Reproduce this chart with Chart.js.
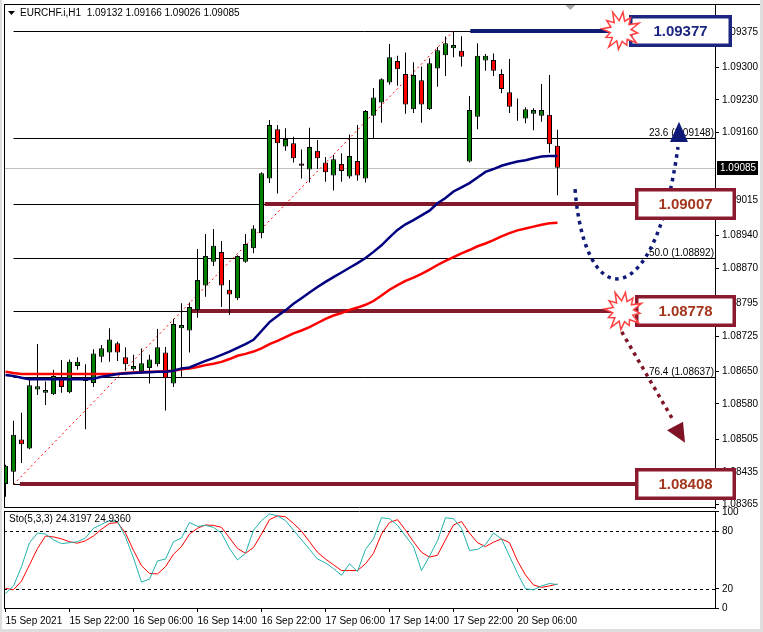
<!DOCTYPE html>
<html><head><meta charset="utf-8">
<script src="https://cdn.jsdelivr.net/npm/chart.js@4.4.1/dist/chart.umd.min.js"></script>
<style>
html,body{margin:0;padding:0;background:#fff;}
#wrap{position:relative;width:763px;height:632px;background:#fff;overflow:hidden;}
#main{position:absolute;left:0;top:0;}
#sto{position:absolute;left:0;top:500px;}
.edge{position:absolute;background:#dedede;}
</style></head><body>
<div id="wrap">
<canvas id="main" width="763" height="510"></canvas>
<canvas id="sto" width="763" height="132"></canvas>
<div class="edge" style="left:0;top:0;width:2px;height:632px"></div>
<div class="edge" style="left:760px;top:0;width:3px;height:632px"></div>
<div class="edge" style="left:0;top:629px;width:763px;height:3px"></div>
</div>
<script>
// ---------------- DATA ----------------
const symbol = 'EURCHF.i,H1';
const timeLabels = ['15 Sep 2021','15 Sep 22:00','16 Sep 06:00','16 Sep 14:00','16 Sep 22:00','17 Sep 06:00','17 Sep 14:00','17 Sep 22:00','20 Sep 06:00'];
const timeTickBars = [0,8,16,24,32,40,48,56,64];

const open = [1.08409,1.08435,1.08504,1.08485,1.08611,1.08604,1.08601,1.08633,1.08605,1.08661,
1.08638,1.08625,1.08681,1.08690,1.08710,1.08680,1.08654,1.08650,1.08657,1.08665,
1.08690,1.08624,1.08742,1.08737,1.08781,1.08833,1.08884,1.08905,1.08824,1.08806,
1.08884,1.08913,1.08945,1.09062,1.09167,1.09130,1.09137,1.09094,1.09081,1.09121,
1.09096,1.09068,1.09093,1.09066,1.09099,1.09062,1.09196,1.09224,1.09267,1.09313,
1.09285,1.09210,1.09272,1.09210,1.09297,1.09325,1.09340,1.09335,1.09098,1.09194,
1.09314,1.09315,1.09285,1.09246,1.09201,1.09190,1.09200,1.09196,1.09198,1.09132];
const high = [1.08450,1.08544,1.08561,1.08633,1.08708,1.08628,1.08653,1.08674,1.08675,1.08680,
1.08665,1.08697,1.08706,1.08742,1.08713,1.08701,1.08685,1.08699,1.08685,1.08740,
1.08702,1.08762,1.08795,1.08797,1.08911,1.08943,1.08954,1.08928,1.08845,1.08898,
1.08943,1.08962,1.09075,1.09187,1.09176,1.09169,1.09151,1.09124,1.09170,1.09144,
1.09108,1.09112,1.09116,1.09156,1.09176,1.09208,1.09255,1.09276,1.09349,1.09324,
1.09331,1.09310,1.09301,1.09319,1.09343,1.09365,1.09377,1.09366,1.09238,1.09351,
1.09328,1.09329,1.09295,1.09317,1.09233,1.09214,1.09212,1.09264,1.09283,1.09166];
const low = [1.08382,1.08408,1.08454,1.08483,1.08599,1.08578,1.08599,1.08604,1.08603,1.08653,
1.08526,1.08616,1.08669,1.08670,1.08672,1.08651,1.08651,1.08644,1.08624,1.08660,
1.08566,1.08616,1.08638,1.08690,1.08764,1.08809,1.08875,1.08787,1.08770,1.08802,
1.08882,1.08902,1.08934,1.09052,1.09030,1.09121,1.09096,1.09062,1.09053,1.09082,
1.09055,1.09036,1.09055,1.09062,1.09057,1.09053,1.09148,1.09181,1.09262,1.09260,
1.09200,1.09202,1.09181,1.09208,1.09258,1.09281,1.09321,1.09301,1.09096,1.09167,
1.09292,1.09281,1.09244,1.09202,1.09185,1.09180,1.09165,1.09183,1.09117,1.09026];
const close = [1.08448,1.08514,1.08494,1.08620,1.08618,1.08610,1.08640,1.08616,1.08670,1.08670,
1.08629,1.08688,1.08699,1.08718,1.08690,1.08665,1.08661,1.08667,1.08675,1.08701,
1.08635,1.08751,1.08749,1.08787,1.08845,1.08896,1.08918,1.08833,1.08814,1.08896,
1.08922,1.08955,1.09073,1.09176,1.09137,1.09146,1.09105,1.09089,1.09129,1.09105,
1.09075,1.09103,1.09078,1.09110,1.09068,1.09206,1.09235,1.09274,1.09321,1.09295,
1.09220,1.09283,1.09220,1.09308,1.09336,1.09351,1.09347,1.09322,1.09208,1.09324,
1.09324,1.09292,1.09253,1.09215,1.09202,1.09210,1.09208,1.09208,1.09135,1.09085];

const maFast = [1.08642,1.08640,1.08636,1.08633,1.08633,1.08633,1.08633,1.08633,1.08633,1.08633,
1.08633,1.08634,1.08638,1.08641,1.08644,1.08645,1.08646,1.08647,1.08648,1.08649,
1.08649,1.08651,1.08656,1.08658,1.08665,1.08672,1.08678,1.08685,1.08692,1.08700,
1.08708,1.08717,1.08736,1.08755,1.08768,1.08780,1.08794,1.08806,1.08818,1.08830,
1.08841,1.08851,1.08861,1.08871,1.08881,1.08892,1.08905,1.08919,1.08936,1.08952,
1.08964,1.08973,1.08983,1.08993,1.09009,1.09020,1.09034,1.09043,1.09052,1.09064,
1.09076,1.09082,1.09089,1.09094,1.09098,1.09101,1.09105,1.09109,1.09110,1.09110];
const maSlow = [1.08649,1.08646,1.08644,1.08644,1.08644,1.08644,1.08644,1.08644,1.08644,1.08644,
1.08644,1.08644,1.08644,1.08644,1.08644,1.08646,1.08647,1.08648,1.08649,1.08649,
1.08650,1.08651,1.08654,1.08656,1.08659,1.08663,1.08666,1.08670,1.08676,1.08683,
1.08687,1.08692,1.08699,1.08708,1.08715,1.08723,1.08731,1.08737,1.08744,1.08753,
1.08762,1.08769,1.08774,1.08781,1.08786,1.08792,1.08800,1.08812,1.08824,1.08834,
1.08843,1.08850,1.08858,1.08867,1.08877,1.08886,1.08894,1.08902,1.08909,1.08917,
1.08923,1.08930,1.08938,1.08945,1.08951,1.08955,1.08959,1.08963,1.08966,1.08967];

const stoMain = [15,23,43,68,78,77,71,67,68,69,73,83,87,91,90,74,52,27,30,49,
51,69,73,89,85,86,84,78,62,50,57,81,91,98,96,91,81,71,61,51,
47,41,34,46,38,61,72,94,93,86,75,64,39,54,70,94,93,83,60,61,
66,78,72,54,36,20,19,23,25.5,24.3197];
const stoSignal = [20.5,19,28,45,62,75,74,72,69,67.5,70,75,82,88,89,78,60,44,36,35.5,
43,56,64,77,83,86.5,86,84,73,62,57,63,77,92,96,95,88,80,69,58,
51,45,39,39,39,46,57,77,89,92,81,69,58,53,55,71,86.5,90,78,68,
64,68.5,72,68,49,34.4,24,21.5,23,24.9360];
const stoLevels = [80, 20];
const stoTicks = [100, 80, 20, 0];

const priceTicks = [1.09375,1.09300,1.09230,1.09160,1.09015,1.08940,1.08870,1.08795,1.08725,1.08650,1.08580,1.08505,1.08435,1.08365];

// Fibonacci retracement (anchored bar 1 low -> bar 56 high)
const fibRatios = [0.0, 23.6, 38.2, 50.0, 61.8, 76.4, 100.0];
const fibLevels = [1.09377, 1.09148, 1.09007, 1.08892, 1.08778, 1.08637, 1.08408];
const fibAnchorBars = [1, 56];

// Drawn objects (bar index / price)
const levelLines = [
  {price:1.09377, from:58.1, to:77.9, color:'#101c72'},
  {price:1.09007, from:32.4, to:78.7, color:'#821a2c'},
  {price:1.08778, from:23.1, to:78.7, color:'#821a2c'},
  {price:1.08408, from:1.8,  to:78.7, color:'#821a2c'}
];
const priceBoxes = [
  {price:1.09377, from:77.9, to:90.8, border:'#1c2680', text:'#1c2680'},
  {price:1.09007, from:78.7, to:91.3, border:'#8b1a2e', text:'#a3361c'},
  {price:1.08778, from:78.7, to:91.3, border:'#8b1a2e', text:'#a3361c'},
  {price:1.08408, from:78.7, to:91.3, border:'#8b1a2e', text:'#a3361c'}
];
const bursts = [{bar:76.9, price:1.09377},{bar:77.2, price:1.08778}];
const upCurve = {p:[[71.19,1.09039],[72.44,1.08770],[81.19,1.08770],[84.06,1.09129]],
                 head:[[84.19,1.09183],[83.06,1.09140],[85.31,1.09140]], color:'#0f1a78'};
const downArrow = {p:[[77.03,1.08734],[83.44,1.08546]],
                   head:[[84.94,1.08497],[82.69,1.08524],[84.69,1.08542]], color:'#7e1426'};

// ---------------- CHARTS ----------------
const FONT = '"Liberation Sans", Arial, sans-serif';
const X_MIN = -0.1875, X_MAX = X_MIN + 711/8;
const bars = open.map((_, i) => i);
const last = open.length - 1;

function seg(ctx, x1, y1, x2, y2){ ctx.beginPath(); ctx.moveTo(x1,y1); ctx.lineTo(x2,y2); ctx.stroke(); }
function zeroPad(s){ s.paddingTop=0; s.paddingBottom=0; s.paddingLeft=0; s.paddingRight=0; }

function starburst(ctx, cx, cy){
  const n = 12, rIn = 10.5;
  const jag = [19,16.5,20,17,19.5,15.5,18.5,20,16,19,17.5,20.5];
  ctx.beginPath();
  for (let k = 0; k < 2*n; k++){
    const ang = -Math.PI/2 + k*Math.PI/n + 0.12;
    const r = k % 2 === 0 ? jag[(k/2) % jag.length] : rIn;
    const px = cx + r*Math.cos(ang), py = cy + r*Math.sin(ang);
    if (k === 0) ctx.moveTo(px, py); else ctx.lineTo(px, py);
  }
  ctx.closePath();
  ctx.fillStyle = '#fff'; ctx.fill();
  ctx.strokeStyle = '#ff4040'; ctx.lineWidth = 1.5; ctx.stroke();
}

const mainDecor = {
  id: 'mainDecor',
  beforeDatasetsDraw(chart){
    const {ctx, chartArea:a, scales:{x, y}} = chart;
    ctx.save();
    ctx.beginPath(); ctx.rect(a.left, a.top, a.right-a.left, a.bottom-a.top); ctx.clip();
    ctx.lineWidth = 1;
    // current price line
    const yp = Math.round(y.getPixelForValue(close[last])) + 0.5;
    ctx.strokeStyle = '#c0c0c0'; seg(ctx, a.left, yp, a.right, yp);
    // fibonacci lines
    ctx.strokeStyle = '#000';
    const fx = x.getPixelForValue(fibAnchorBars[0]);
    fibLevels.forEach(v => { const yy = Math.round(y.getPixelForValue(v)) + 0.5; seg(ctx, fx, yy, a.right, yy); });
    // fib diagonal
    ctx.strokeStyle = '#ff0000'; ctx.setLineDash([2,3]);
    seg(ctx, x.getPixelForValue(fibAnchorBars[0]), y.getPixelForValue(fibLevels[6]),
             x.getPixelForValue(fibAnchorBars[1]), y.getPixelForValue(fibLevels[0]));
    ctx.setLineDash([]);
    // thick level lines
    levelLines.forEach(l => {
      ctx.strokeStyle = l.color; ctx.lineWidth = 4;
      const yy = Math.round(y.getPixelForValue(l.price));
      seg(ctx, x.getPixelForValue(l.from), yy, x.getPixelForValue(l.to), yy);
    });
    ctx.restore();
  },
  afterDatasetsDraw(chart){
    const {ctx, chartArea:a, scales:{x, y}} = chart;
    const X = v => x.getPixelForValue(v), Y = v => y.getPixelForValue(v);
    ctx.save();
    // frame
    ctx.strokeStyle = '#000'; ctx.lineWidth = 1;
    seg(ctx, a.left+0.5, a.top, a.left+0.5, a.bottom);
    seg(ctx, a.left, a.top+0.5, 760, a.top+0.5);
    seg(ctx, a.left, a.bottom-0.5, a.right, a.bottom-0.5);
    // chart shift marker
    ctx.fillStyle = '#a8a8a8';
    ctx.beginPath(); ctx.moveTo(X(70.6)-5, a.top+1); ctx.lineTo(X(70.6)+5, a.top+1); ctx.lineTo(X(70.6), a.top+6); ctx.closePath(); ctx.fill();
    // title
    ctx.fillStyle = '#000';
    ctx.beginPath(); ctx.moveTo(8, 11); ctx.lineTo(15, 11); ctx.lineTo(11.5, 15); ctx.closePath(); ctx.fill();
    ctx.font = '10px ' + FONT; ctx.textBaseline = 'middle'; ctx.textAlign = 'left';
    ctx.fillText(symbol + '  ' + [open[last], high[last], low[last], close[last]].map(v => v.toFixed(5)).join(' '), 20, 13);
    // fib labels
    ctx.textAlign = 'right'; ctx.textBaseline = 'bottom';
    fibLevels.forEach((v, i) => {
      ctx.fillText(fibRatios[i].toFixed(1) + ' (' + v.toFixed(5) + ')', a.right - 1, Math.round(Y(v)));
    });
    // current price tag
    const yp = Math.round(Y(close[last]));
    ctx.fillStyle = '#000'; ctx.fillRect(a.right + 2, yp - 7, 41, 14);
    ctx.fillStyle = '#fff'; ctx.textAlign = 'left'; ctx.textBaseline = 'middle';
    ctx.fillText(close[last].toFixed(5), a.right + 5, yp + 0.5);
    // blue dotted curve
    const c = upCurve.p.map(p => [X(p[0]), Y(p[1])]);
    ctx.strokeStyle = upCurve.color; ctx.lineWidth = 3.5; ctx.setLineDash([3.5, 4.5]);
    ctx.beginPath(); ctx.moveTo(c[0][0], c[0][1]);
    ctx.bezierCurveTo(c[1][0], c[1][1], c[2][0], c[2][1], c[3][0], c[3][1]); ctx.stroke();
    // maroon dotted arrow
    const d = downArrow.p.map(p => [X(p[0]), Y(p[1])]);
    ctx.strokeStyle = downArrow.color;
    ctx.beginPath(); ctx.moveTo(d[0][0], d[0][1]); ctx.lineTo(d[1][0], d[1][1]); ctx.stroke();
    ctx.setLineDash([]);
    [[upCurve.head, upCurve.color], [downArrow.head, downArrow.color]].forEach(([h, col]) => {
      ctx.fillStyle = col; ctx.beginPath();
      h.forEach((p, k) => k ? ctx.lineTo(X(p[0]), Y(p[1])) : ctx.moveTo(X(p[0]), Y(p[1])));
      ctx.closePath(); ctx.fill();
    });
    // price boxes
    priceBoxes.forEach(b => {
      const x0 = Math.round(X(b.from)), x1 = Math.round(X(b.to)), yc = Y(b.price);
      const y0 = Math.round(yc - 16), h = 32;
      ctx.fillStyle = '#fff'; ctx.fillRect(x0, y0, x1 - x0, h);
      ctx.strokeStyle = b.border; ctx.lineWidth = 3.5;
      ctx.strokeRect(x0 + 1.75, y0 + 1.75, x1 - x0 - 3.5, h - 3.5);
      ctx.fillStyle = b.text; ctx.font = 'bold 15px ' + FONT; ctx.textAlign = 'center'; ctx.textBaseline = 'middle';
      ctx.fillText(b.price.toFixed(5), (x0 + x1) / 2, y0 + h / 2 + 1);
    });
    // starbursts
    bursts.forEach(s => starburst(ctx, X(s.bar), Y(s.price)));
    ctx.restore();
  }
};

new Chart(document.getElementById('main'), {
  data: {
    datasets: [
      {type:'line', label:'MA fast', data: bars.map(i => ({x:i, y:maFast[i]})), borderColor:'#000080', borderWidth:2.5, pointRadius:0, tension:0, order:0},
      {type:'line', label:'MA slow', data: bars.map(i => ({x:i, y:maSlow[i]})), borderColor:'#ff0000', borderWidth:2.5, pointRadius:0, tension:0, order:0},
      {type:'bar', label:'body', data: bars.map(i => ({x:i, y:[open[i], close[i]]})),
        backgroundColor: bars.map(i => close[i] >= open[i] ? '#008000' : '#ff0000'),
        borderColor:'#000', borderWidth:1, borderSkipped:false, barThickness:5, inflateAmount:0, grouped:false, order:1},
      {type:'bar', label:'wick', data: bars.map(i => ({x:i, y:[low[i], high[i]]})),
        backgroundColor:'#000', borderWidth:0, barThickness:1, inflateAmount:0, grouped:false, order:2}
    ]
  },
  options: {
    responsive:false, animation:false, devicePixelRatio:1, events:[],
    layout:{padding:{left:4, top:4, right:0, bottom:2}},
    plugins:{legend:{display:false}, tooltip:{enabled:false}},
    scales:{
      x:{type:'linear', display:false, min:X_MIN, max:X_MAX, offset:false},
      y:{type:'linear', position:'right', min:1.083577, max:1.094347,
         afterBuildTicks: s => { s.ticks = priceTicks.map(v => ({value:v})); },
         afterFit: s => { s.width = 48; zeroPad(s); },
         grid:{drawOnChartArea:false, drawTicks:true, tickLength:4, color:'#000'},
         border:{display:true, color:'#000'},
         ticks:{font:{family:FONT, size:10}, color:'#000', padding:3, autoSkip:false,
                callback: v => Number(v).toFixed(5)}}
    }
  },
  plugins:[mainDecor]
});

const stoDecor = {
  id:'stoDecor',
  beforeDatasetsDraw(chart){
    const {ctx, chartArea:a, scales:{y}} = chart;
    ctx.save(); ctx.strokeStyle = '#000'; ctx.lineWidth = 1; ctx.setLineDash([3,3]);
    stoLevels.forEach(v => { const yy = Math.round(y.getPixelForValue(v)) + 0.5; seg(ctx, a.left, yy, a.right, yy); });
    ctx.restore();
  },
  afterDatasetsDraw(chart){
    const {ctx, chartArea:a} = chart;
    ctx.save(); ctx.strokeStyle = '#000'; ctx.lineWidth = 1;
    seg(ctx, a.left+0.5, a.top, a.left+0.5, a.bottom);
    seg(ctx, a.left, a.top+0.5, a.right, a.top+0.5);
    ctx.fillStyle = '#000'; ctx.font = '10px ' + FONT; ctx.textAlign = 'left'; ctx.textBaseline = 'middle';
    ctx.fillText('Sto(5,3,3) ' + stoMain[last].toFixed(4) + ' ' + stoSignal[last].toFixed(4), a.left + 5, a.top + 8);
    ctx.restore();
  }
};

new Chart(document.getElementById('sto'), {
  type:'line',
  data:{datasets:[
    {label:'Main', data: bars.map(i => ({x:i, y:stoMain[i]})), borderColor:'#20b2aa', borderWidth:1, pointRadius:0, tension:0},
    {label:'Signal', data: bars.map(i => ({x:i, y:stoSignal[i]})), borderColor:'#ff0000', borderWidth:1, pointRadius:0, tension:0}
  ]},
  options:{
    responsive:false, animation:false, devicePixelRatio:1, events:[],
    layout:{padding:{left:4, top:11, right:0, bottom:2}},
    plugins:{legend:{display:false}, tooltip:{enabled:false}},
    scales:{
      x:{type:'linear', min:X_MIN, max:X_MAX, offset:false,
         afterBuildTicks: s => { s.ticks = timeTickBars.map(v => ({value:v})); },
         afterFit: s => { s.height = 22; zeroPad(s); },
         grid:{drawOnChartArea:false, drawTicks:true, tickLength:4, color:'#000'},
         border:{display:true, color:'#000'},
         ticks:{font:{family:FONT, size:10}, color:'#000', padding:3, autoSkip:false, maxRotation:0, align:'start',
                callback: (v, i) => timeLabels[i]}},
      y:{type:'linear', position:'right', min:0, max:101,
         afterBuildTicks: s => { s.ticks = stoTicks.map(v => ({value:v})); },
         afterFit: s => { s.width = 48; zeroPad(s); },
         grid:{drawOnChartArea:false, drawTicks:true, tickLength:4, color:'#000'},
         border:{display:true, color:'#000'},
         ticks:{font:{family:FONT, size:10}, color:'#000', padding:3, autoSkip:false}}
    }
  },
  plugins:[stoDecor]
});
</script>
</body></html>
